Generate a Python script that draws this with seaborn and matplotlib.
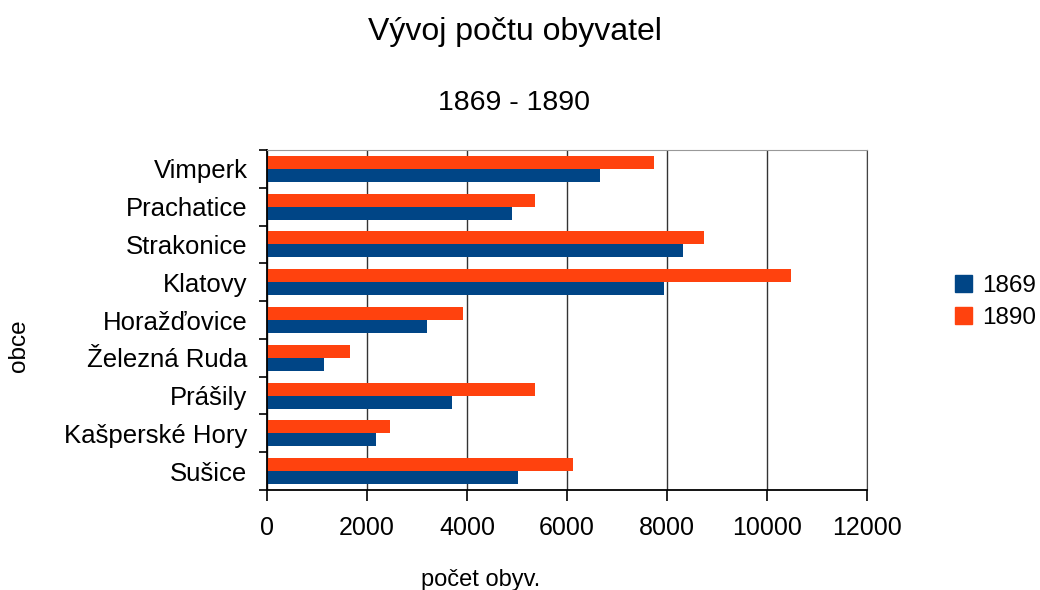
import numpy as np
import pandas as pd
import matplotlib
matplotlib.use("Agg")
import matplotlib.pyplot as plt
import seaborn as sns
from matplotlib.patches import Patch

# --- data ---
obce = ["Vimperk", "Prachatice", "Strakonice", "Klatovy", "Horažďovice",
        "Železná Ruda", "Prášily", "Kašperské Hory", "Sušice"]
obyv_1869 = [6665, 4908, 8328, 7932, 3206, 1140, 3705, 2185, 5027]
obyv_1890 = [7750, 5367, 8731, 10473, 3926, 1662, 5367, 2454, 6127]
roky = ["1869", "1890"]
barvy = {"1869": "#004586", "1890": "#ff420e"}
x_ticks = [0, 2000, 4000, 6000, 8000, 10000, 12000]

df = pd.DataFrame({
    "obec": obce * 2,
    "rok": [roky[0]] * len(obce) + [roky[1]] * len(obce),
    "pocet": obyv_1869 + obyv_1890,
})

sns.set_style("white")
plt.rcParams["font.family"] = ["Liberation Sans", "DejaVu Sans"]
plt.rcParams["text.color"] = "black"
plt.rcParams["xtick.color"] = "black"
plt.rcParams["ytick.color"] = "black"

fig = plt.figure(figsize=(10.4, 5.9), dpi=100)
ax = fig.add_axes([267 / 1040, 1 - 490 / 590, 600 / 1040, 340 / 590])

# 1890 drawn first so it sits on top of each pair
sns.barplot(data=df, y="obec", x="pocet", hue="rok", hue_order=["1890", "1869"],
            order=obce, palette=barvy, width=0.69, saturation=1, orient="h",
            linewidth=0, legend=False, ax=ax)

ax.set_xlim(0, 12000)
ax.set_ylim(len(obce) - 0.5, -0.5)
ax.set_xticks(x_ticks)
ax.set_xticklabels([str(t) for t in x_ticks])
ax.set_yticks(np.arange(-0.5, len(obce), 1), minor=True)
ax.set_xlabel("")
ax.set_ylabel("")

ax.xaxis.grid(True, color="#333333", lw=1)
ax.set_axisbelow(True)

ax.tick_params(axis="x", bottom=True, length=8, width=1.2, color="black",
               labelcolor="black", labelsize=18, pad=11)
ax.tick_params(axis="y", which="major", left=True, length=0, labelcolor="black",
               labelsize=18.5, pad=14)
ax.tick_params(axis="y", which="minor", left=True, length=6, width=1.2, color="black")

for s in ["left", "bottom"]:
    ax.spines[s].set_color("black")
    ax.spines[s].set_linewidth(1.3)
ax.spines["top"].set_color("#999999")
ax.spines["right"].set_color("#444444")

# titles and axis labels
fig.text(515 / 1040, 1 - 40 / 590, "Vývoj počtu obyvatel", fontsize=23,
         ha="center", va="baseline")
fig.text(514 / 1040, 1 - 110 / 590, "1869 - 1890", fontsize=20.5,
         ha="center", va="baseline")
fig.text(481 / 1040, 1 - 586 / 590, "počet obyv.", fontsize=17,
         ha="center", va="baseline")
fig.text(19 / 1040, 1 - 346 / 590, "obce", fontsize=17.5, rotation=90,
         ha="center", va="center")

handles = [Patch(facecolor=barvy[r], edgecolor=barvy[r]) for r in roky]
fig.legend(handles, roky, loc="center left", bbox_to_anchor=(955 / 1040, 1 - 302 / 590),
           frameon=False, fontsize=17.5, handlelength=0.7, handleheight=0.7,
           handletextpad=0.4, labelspacing=0.45, borderpad=0, borderaxespad=0)

fig.savefig("out.png", dpi=100)
